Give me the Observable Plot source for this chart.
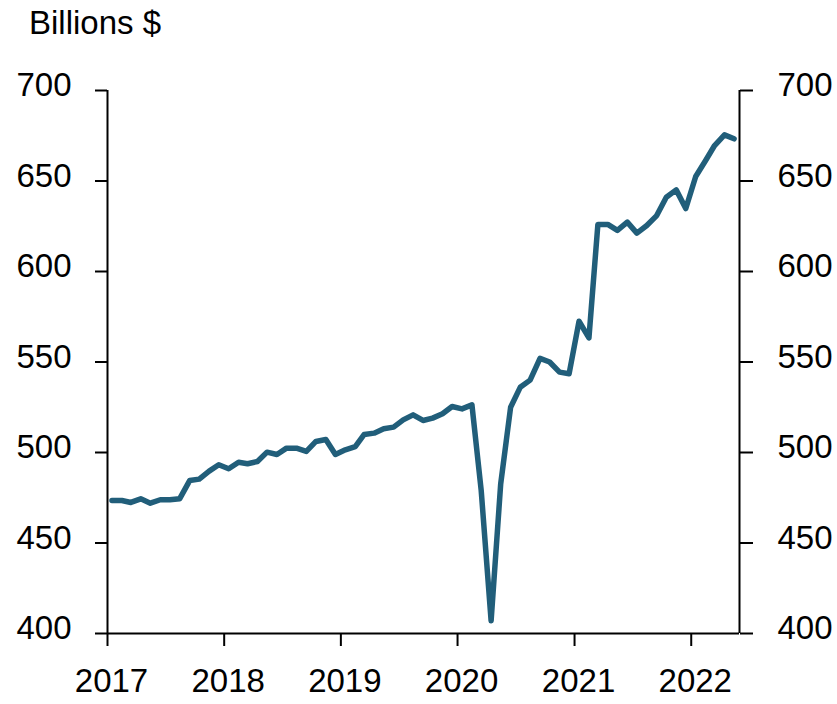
<!DOCTYPE html>
<html>
<head>
<meta charset="utf-8">
<script src="https://cdn.jsdelivr.net/npm/d3@7"></script>
<script src="https://cdn.jsdelivr.net/npm/@observablehq/plot@0.6"></script>
<style>
  html, body { margin: 0; padding: 0; background: #fff; }
  body { width: 837px; height: 704px; overflow: hidden; font-family: "Liberation Sans", Arial, sans-serif; }
  #title { height: 45px; line-height: 45px; font-size: 33px; padding-left: 29px; color: #000; white-space: nowrap; }
  #chart svg { display: block; }
</style>
</head>
<body>
<div id="title">Billions $</div>
<div id="chart"></div>
<script>
// Monthly series, January 2017 through May 2022 (billions of dollars)
const firstMonth = "2017-01";
const values = [
  473.5, 473.5, 472.4, 474.4, 472.0, 473.9, 473.9, 474.5, 484.5, 485.3, 489.7, 493.2, // 2017
  491.0, 494.6, 493.8, 495.0, 500.2, 498.9, 502.4, 502.4, 500.6, 506.1, 507.2, 498.9, // 2018
  501.5, 503.3, 510.0, 510.7, 513.1, 514.0, 518.0, 520.8, 517.7, 519.0, 521.4, 525.4, // 2019
  524.1, 526.3, 479.0, 407.0, 482.7, 525.0, 536.0, 540.0, 552.0, 550.0, 544.4, 543.5, // 2020
  572.5, 563.3, 626.0, 626.0, 622.7, 627.3, 621.2, 625.4, 630.9, 641.0, 645.1, 634.8, // 2021
  652.5, 661.3, 669.6, 675.5, 673.3                                                   // 2022
];
const yTicks = [400, 450, 500, 550, 600, 650, 700];
const xTickYears = [2017, 2018, 2019, 2020, 2021, 2022];
const xDomain = ["2017-01-01", "2022-06-01"];
const yDomain = [400, 700];

const start = new Date(firstMonth + "-01T00:00:00Z");
const data = values.map((v, i) => ({
  date: new Date(Date.UTC(start.getUTCFullYear(), start.getUTCMonth() + i, 15)),
  value: v
}));
const xTicks = xTickYears.map(y => new Date(Date.UTC(y, 0, 1)));
const xDom = xDomain.map(d => new Date(d + "T00:00:00Z"));

const chart = Plot.plot({
  width: 837,
  height: 659,
  marginTop: 45,
  marginBottom: 71,
  marginLeft: 107,
  marginRight: 98,
  style: { fontSize: "33px", fontFamily: "'Liberation Sans', Arial, sans-serif", color: "#000", background: "#fff", overflow: "visible" },
  x: { type: "utc", domain: xDom },
  y: { domain: yDomain },
  marks: [
    Plot.ruleX(xDom, { stroke: "#000", strokeWidth: 2 }),
    Plot.ruleY([yDomain[0]], { stroke: "#000", strokeWidth: 2 }),
    // tick marks only
    Plot.axisY(yTicks, { anchor: "left", tickSize: 12, tickFormat: () => "", stroke: "#000", strokeWidth: 2, label: null }),
    Plot.axisY(yTicks, { anchor: "right", tickSize: 13, tickFormat: () => "", stroke: "#000", strokeWidth: 2, label: null }),
    Plot.axisX(xTicks, { anchor: "bottom", tickSize: 13, tickFormat: () => "", stroke: "#000", strokeWidth: 2, label: null }),
    // tick labels
    Plot.text(yTicks, { y: d => d, text: d => String(d), frameAnchor: "left", textAnchor: "end", dx: -36, dy: -5, fill: "#000", fontSize: 33 }),
    Plot.text(yTicks, { y: d => d, text: d => String(d), frameAnchor: "right", textAnchor: "start", dx: 38, dy: -5, fill: "#000", fontSize: 33 }),
    Plot.text(xTicks, { x: d => d, text: d => String(d.getUTCFullYear()), frameAnchor: "bottom", lineAnchor: "top", dx: 4, dy: 35, fill: "#000", fontSize: 33 }),
    Plot.lineY(data, { x: "date", y: "value", stroke: "#215e7a", strokeWidth: 5.5, strokeLinejoin: "round", strokeLinecap: "round" })
  ]
});
document.getElementById("chart").appendChild(chart);
</script>
</body>
</html>
